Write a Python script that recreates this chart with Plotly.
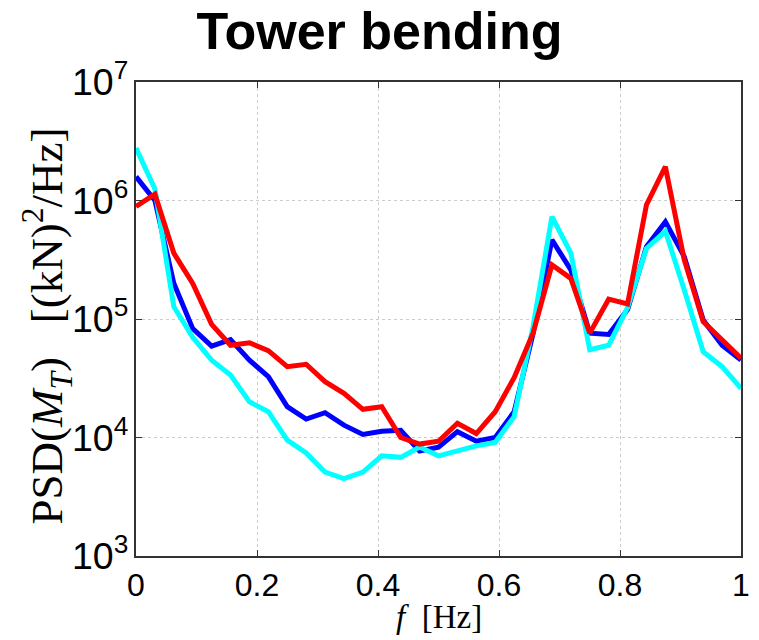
import plotly.graph_objects as go

freq = [0.0, 0.03125, 0.0625, 0.09375, 0.125, 0.15625, 0.1875, 0.21875, 0.25,
        0.28125, 0.3125, 0.34375, 0.375, 0.40625, 0.4375, 0.46875, 0.5,
        0.53125, 0.5625, 0.59375, 0.625, 0.65625, 0.6875, 0.71875, 0.75,
        0.78125, 0.8125, 0.84375, 0.875, 0.90625, 0.9375, 0.96875, 1.0]

psd_blue = [1.59e6, 1.0e6, 2.0e5, 8.3e4, 5.9e4, 6.7e4, 4.5e4, 3.26e4, 1.82e4,
            1.43e4, 1.62e4, 1.27e4, 1.06e4, 1.13e4, 1.15e4, 7.7e3, 8.3e3,
            1.12e4, 9.3e3, 1.0e4, 1.65e4, 7.5e4, 4.65e5, 2.6e5, 7.6e4,
            7.4e4, 1.2e5, 4.07e5, 6.6e5, 3.36e5, 9.8e4, 6.0e4, 4.5e4]

psd_cyan = [2.77e6, 1.25e6, 1.27e5, 7.0e4, 4.5e4, 3.37e4, 2.0e4, 1.65e4, 9.5e3,
            7.4e3, 5.1e3, 4.5e3, 5.1e3, 7.0e3, 6.8e3, 8.3e3, 7.0e3,
            7.7e3, 8.5e3, 9.1e3, 1.5e4, 8.6e4, 7.3e5, 3.6e5, 5.5e4,
            6.0e4, 1.25e5, 3.95e5, 5.5e5, 1.76e5, 5.3e4, 3.96e4, 2.6e4]

psd_red = [8.9e5, 1.13e6, 3.6e5, 2.0e5, 9.0e4, 6.0e4, 6.3e4, 5.4e4, 3.96e4,
           4.15e4, 2.96e4, 2.36e4, 1.73e4, 1.82e4, 1.0e4, 8.8e3, 9.3e3,
           1.32e4, 1.08e4, 1.65e4, 3.2e4, 7.6e4, 2.86e5, 2.2e5, 7.6e4,
           1.47e5, 1.34e5, 9.2e5, 1.93e6, 3.15e5, 9.5e4, 6.65e4, 4.66e4]

x_ticks = [0, 0.2, 0.4, 0.6, 0.8, 1]
x_tick_labels = ["0", "0.2", "0.4", "0.6", "0.8", "1"]

fig = go.Figure()
for ys, col in [(psd_blue, "#0000ff"), (psd_cyan, "#00ffff"), (psd_red, "#ff0000")]:
    fig.add_trace(go.Scatter(x=freq, y=ys, mode="lines",
                             line=dict(color=col, width=5), showlegend=False))

axis_common = dict(
    showline=True, linecolor="#333333", linewidth=1.5, mirror="ticks",
    ticks="inside", ticklen=6, tickcolor="#333333", tickwidth=1,
    showgrid=True, gridcolor="#cccccc", griddash="dot", gridwidth=1,
    zeroline=False,
)
tick_font_x = dict(family="Liberation Sans, Arial, sans-serif", size=32, color="black")
tick_font_y = dict(family="Liberation Sans, Arial, sans-serif", size=30, color="black")

fig.update_layout(
    width=759, height=640,
    margin=dict(l=136, r=9, t=82, b=84),
    paper_bgcolor="white", plot_bgcolor="white",
    title=dict(text="<b>Tower bending</b>", x=0.5, xref="container", xanchor="center",
               y=1 - 31 / 640, yref="container", yanchor="middle",
               font=dict(family="Liberation Sans, Arial, sans-serif", size=52, color="black")),
    xaxis=dict(range=[0, 1], tickvals=x_ticks, ticktext=x_tick_labels,
               tickfont=tick_font_x, **axis_common),
    yaxis=dict(type="log", range=[3, 7], dtick=1, exponentformat="power",
               tickfont=tick_font_y, **axis_common),
)

fig.add_annotation(
    text="PSD(<i>M</i><sub><i>T</i></sub>)   [(kN)<sup>2</sup>/Hz]",
    xref="paper", yref="paper", x=-0.148, y=0.485, xanchor="center", yanchor="middle",
    textangle=-90, showarrow=False,
    font=dict(family="Liberation Serif, Times New Roman, serif", size=45, color="black"),
)
fig.add_annotation(
    text="<i>f</i>  [Hz]",
    xref="paper", yref="paper", x=0.5, y=-0.1287, xanchor="center", yanchor="middle",
    showarrow=False,
    font=dict(family="Liberation Serif, Times New Roman, serif", size=33, color="black"),
)

fig.write_html("out.html")
